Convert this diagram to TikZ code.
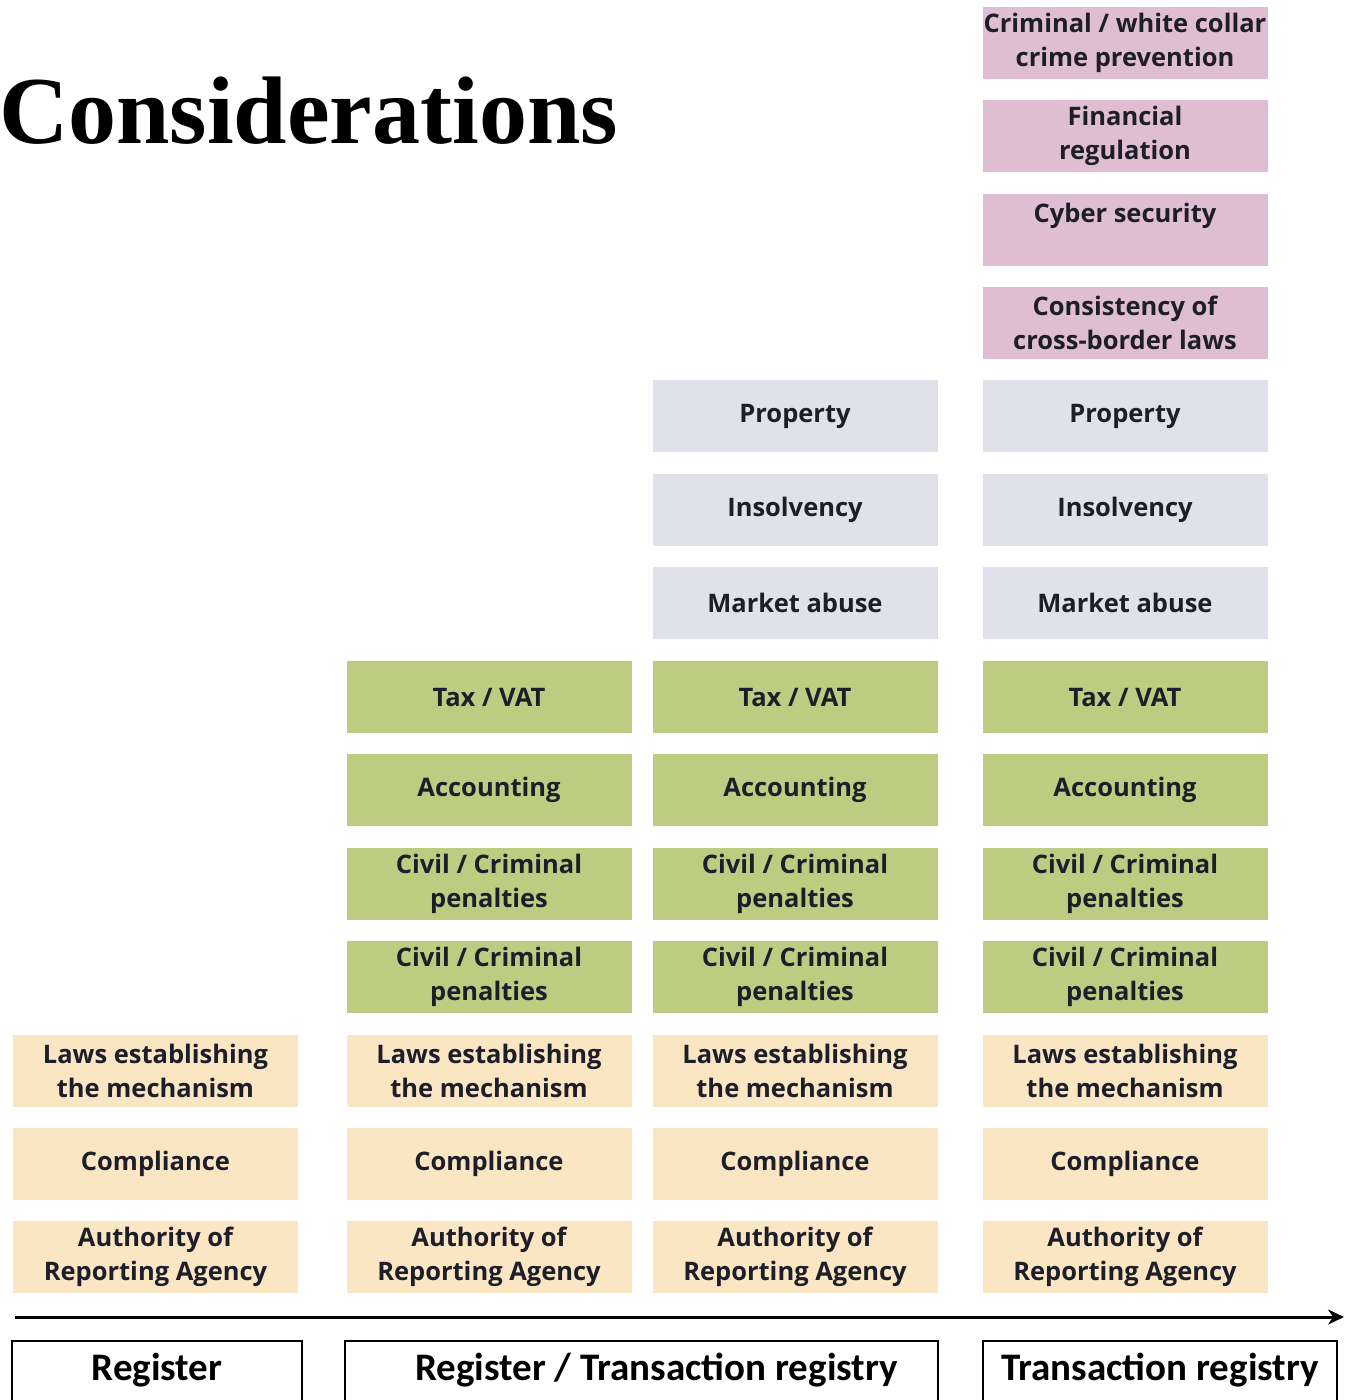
\documentclass[tikz,border=0pt]{standalone}
\usepackage{fontspec}
\setmainfont{Liberation Serif}
\newfontfamily\boxfont{Open Sans}
\newfontfamily\labfont{Carlito}
\usetikzlibrary{arrows.meta}
\definecolor{pinkc}{HTML}{DFBED4}
\definecolor{greyc}{HTML}{E0E1EB}
\definecolor{greenc}{HTML}{BECC82}
\definecolor{yellowc}{HTML}{FAE6C3}
\definecolor{txt}{HTML}{1E1E2A}
\tikzset{
  cbox/.style={rectangle, draw=none, minimum width=285pt, minimum height=72pt, inner sep=0pt,
    align=center, text=txt, font=\boxfont\bfseries\fontsize{25.5}{34}\selectfont},
  pbox/.style={cbox, fill=pinkc},
  gbox/.style={cbox, fill=greyc},
  grbox/.style={cbox, fill=greenc},
  ybox/.style={cbox, fill=yellowc},
  stagebox/.style={rectangle, draw=none, inner sep=0pt, minimum height=59pt,
    text=black, font=\labfont\bfseries\fontsize{39}{42}\selectfont},
  stageline/.style={draw=black, line width=1.8pt},
  flow/.style={draw=black, line width=3pt, -{Stealth[length=16pt,width=15pt]}}
}
\begin{document}
\begin{tikzpicture}[x=1pt,y=-1pt]
\useasboundingbox (0,0) rectangle (1344,1400);
% title
\node[anchor=base west, inner sep=0pt, font=\bfseries\fontsize{96}{100}\selectfont] (title) at (-1,143) {Considerations};

% pink column 4
\node[pbox] (p1) at (1125,43) {\raisebox{-3pt}{Criminal / white collar}\\\raisebox{-3pt}{crime prevention}};
\node[pbox] (p2) at (1125,136) {Financial\\regulation};
\node[pbox] (p3) at (1125,229.5) {Cyber security\\\phantom{X}};
\node[pbox] (p4) at (1125,323) {Consistency of\\cross-border laws};

% grey columns 3,4
\foreach \c/\x in {3/795,4/1125}{
  \node[gbox] (g1c\c) at (\x,416) {Property};
  \node[gbox] (g2c\c) at (\x,510) {Insolvency};
  \node[gbox] (g3c\c) at (\x,603) {Market abuse};
}
% green columns 2,3,4
\foreach \c/\x in {2/489,3/795,4/1125}{
  \node[grbox] (r1c\c) at (\x,697) {Tax / VAT};
  \node[grbox] (r2c\c) at (\x,790) {Accounting};
  \node[grbox] (r3c\c) at (\x,884) {Civil / Criminal\\penalties};
  \node[grbox] (r4c\c) at (\x,977) {Civil / Criminal\\penalties};
}
% yellow all columns
\foreach \c/\x in {1/155.5,2/489,3/795,4/1125}{
  \node[ybox] (y1c\c) at (\x,1071) {Laws establishing\\the mechanism};
  \node[ybox] (y2c\c) at (\x,1164) {Compliance};
  \node[ybox] (y3c\c) at (\x,1257) {Authority of\\Reporting Agency};
}

% timeline arrow
\coordinate (astart) at (15,1317);
\coordinate (aend) at (1344,1317);
\draw[flow] (astart) -- (aend);

% stage boxes (bottom open)
\node[stagebox, minimum width=290pt] (s1) at (157,1370.5) {Register};
\node[stagebox, minimum width=593pt] (s2) at (641.5,1370.5) {\hspace*{30pt}Register / Transaction registry};
\node[stagebox, minimum width=354pt] (s3) at (1160,1370.5) {Transaction registry};
\foreach \s in {s1,s2,s3}{
  \draw[stageline] (\s.south west) |- (\s.north east) -- (\s.south east);
}
\end{tikzpicture}
\end{document}
